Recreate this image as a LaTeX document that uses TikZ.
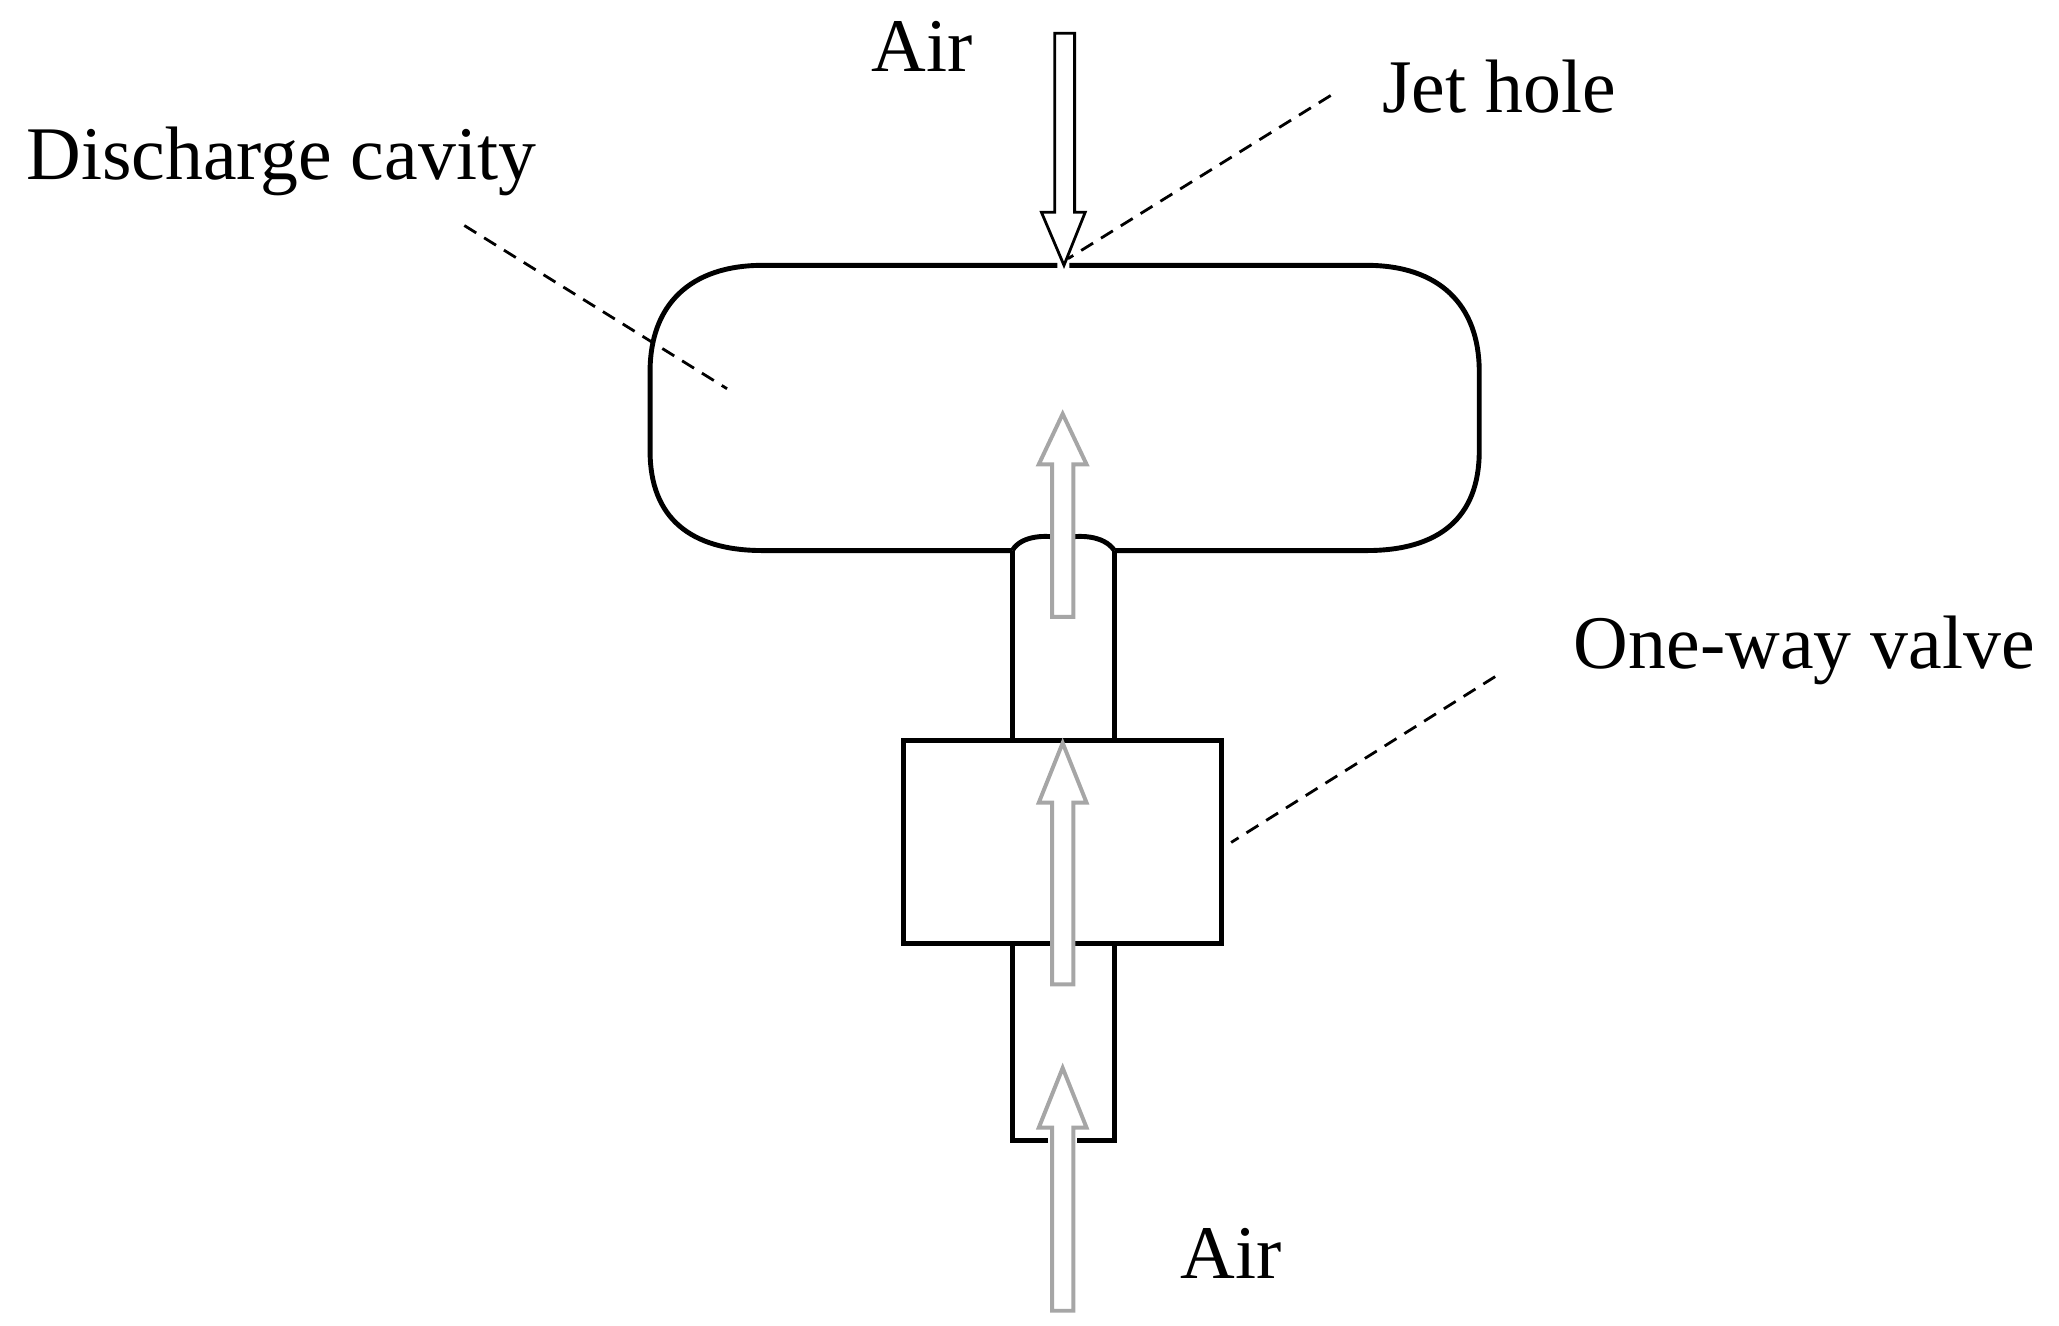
\documentclass[tikz,border=0pt]{standalone}
\usepackage{fontspec}
\setmainfont{Liberation Serif}
\begin{document}
\begin{tikzpicture}[x=0.02cm,y=-0.02cm,
  wall/.style={line width=2.1pt,black},
  lbl/.style={font=\fontsize{32.5}{38}\selectfont},
  lead/.style={line width=1.2pt,dash pattern=on 6pt off 4pt},
  garrow/.style={draw=gray!70,line width=1.7pt,fill=white},
  barrow/.style={draw=black,line width=1.2pt,fill=white}]
\useasboundingbox (0,0) rectangle (1552,999);
% cavity
\draw[wall] (797,200) -- (575,200) .. controls (520,200) and (490,230) .. (490,280) -- (490,340) .. controls (490,390) and (520,415) .. (575,415) -- (763,415);
\draw[wall] (806,200) -- (1030,200) .. controls (1085,200) and (1115,230) .. (1115,280) -- (1115,340) .. controls (1115,390) and (1085,415) .. (1030,415) -- (840,415);
\draw[wall] (763,415) .. controls (770,403) and (790,403) .. (801,406) .. controls (812,403) and (832,403) .. (840,415);
% neck and valve
\draw[wall] (763,415) -- (763,558);
\draw[wall] (840,415) -- (840,558);
\draw[wall] (681,558) rectangle (921,711);
\draw[wall] (790,860) -- (763,860) -- (763,711);
\draw[wall] (812,860) -- (840,860) -- (840,711);
% arrows
\draw[barrow] (795,25) -- (810,25) -- (810,160) -- (818,160) -- (802,200) -- (785,160) -- (795,160) -- cycle;
\foreach \t/\b/\e in {312/350/465, 560/605/742, 805/850/988}{
  \draw[garrow] (801,\t) -- (819,\b) -- (809,\b) -- (809,\e) -- (793,\e) -- (793,\b) -- (783,\b) -- cycle;
}
% leaders
\draw[lead] (350,170) -- (548,293);
\draw[lead] (1003,72) -- (805,195);
\draw[lead] (1127,510) -- (928,635);
% labels
\node[lbl] (air1) at (695,35) {Air};
\node[lbl] (jet) at (1130,65) {Jet hole};
\node[lbl] (dc) at (212,122) {Discharge cavity};
\node[lbl] (ow) at (1360,490) {One-way valve};
\node[lbl] (air2) at (928,945) {Air};
\end{tikzpicture}
\end{document}
